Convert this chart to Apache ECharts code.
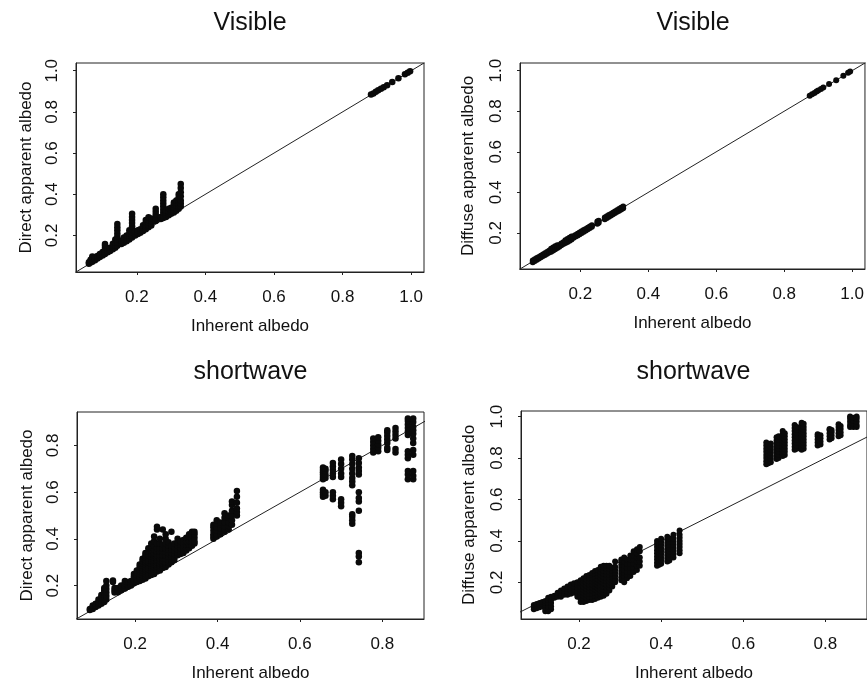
<!DOCTYPE html>
<html>
<head>
<meta charset="utf-8">
<script src="https://cdn.jsdelivr.net/npm/echarts@6/dist/echarts.min.js"></script>
<style>html,body{margin:0;padding:0;background:#fff}#c{width:867px;height:683px}</style>
</head>
<body>
<div id="c"></div>
<script>
// ---- data: columns of [inherent albedo, [apparent albedo values]] ----
const visDirect = [
  [0.06,[0.062,0.07]],[0.065,[0.068,0.075,0.082]],[0.07,[0.072,0.08,0.09,0.098]],
  [0.078,[0.08,0.088,0.095]],[0.085,[0.088,0.095,0.1]],[0.092,[0.095,0.102,0.11]],
  [0.1,[0.103,0.11,0.12]],[0.107,[0.11,0.12,0.13,0.14,0.15,0.158]],[0.115,[0.118,0.125,0.135]],
  [0.122,[0.125,0.132,0.14]],[0.13,[0.133,0.14,0.15,0.16]],[0.137,[0.14,0.15,0.165,0.18]],
  [0.143,[0.15,0.165,0.18,0.195,0.21,0.225,0.24,0.255]],[0.155,[0.158,0.165,0.175]],
  [0.162,[0.165,0.172,0.182,0.19]],[0.17,[0.172,0.18,0.19,0.2]],[0.178,[0.18,0.19,0.2,0.21,0.225]],
  [0.186,[0.19,0.2,0.215,0.23,0.245,0.26,0.275,0.29,0.305]],[0.195,[0.2,0.21,0.22]],
  [0.203,[0.207,0.215,0.225]],[0.21,[0.213,0.22,0.23]],[0.218,[0.222,0.23,0.24,0.25]],
  [0.226,[0.23,0.24,0.25,0.262,0.275]],[0.234,[0.24,0.25,0.262,0.275,0.288]],
  [0.242,[0.248,0.258,0.27,0.282]],[0.255,[0.27,0.285,0.3,0.315,0.33]],[0.27,[0.28,0.29]],
  [0.277,[0.285,0.295,0.31,0.325,0.34,0.355,0.37,0.385,0.4]],[0.285,[0.29,0.3,0.31,0.32]],
  [0.293,[0.298,0.308,0.318,0.33]],[0.3,[0.305,0.315,0.325,0.335]],
  [0.308,[0.312,0.322,0.335,0.35,0.36]],[0.315,[0.32,0.33,0.345,0.36,0.37]],
  [0.322,[0.33,0.34,0.355,0.37,0.385,0.4]],[0.328,[0.34,0.355,0.37,0.39,0.41,0.43,0.45]],
  [0.883,[0.885]],[0.89,[0.89]],[0.897,[0.898]],[0.904,[0.905]],[0.912,[0.912]],[0.92,[0.92]],
  [0.93,[0.93]],[0.945,[0.945]],[0.963,[0.963]],[0.982,[0.983]],[0.99,[0.99]],[0.997,[0.998]]
];
const visDiffuse = [
  [0.06,[0.056,0.064]],[0.066,[0.062,0.07]],[0.072,[0.068,0.076]],[0.078,[0.074,0.082]],
  [0.084,[0.08,0.088]],[0.09,[0.086,0.094]],[0.096,[0.092,0.1]],[0.102,[0.098,0.106]],
  [0.108,[0.104,0.112]],[0.114,[0.108,0.116,0.122]],[0.12,[0.114,0.122,0.128]],
  [0.126,[0.12,0.128,0.134]],[0.132,[0.126,0.134,0.14]],[0.138,[0.132,0.14]],
  [0.144,[0.14,0.148]],[0.15,[0.146,0.154]],[0.156,[0.15,0.158,0.164]],[0.162,[0.156,0.164,0.17]],
  [0.168,[0.162,0.17,0.176]],[0.174,[0.168,0.176,0.182]],[0.18,[0.176,0.184]],[0.186,[0.182,0.19]],
  [0.192,[0.188,0.196]],[0.198,[0.194,0.202]],[0.204,[0.2,0.208]],[0.21,[0.206,0.214]],
  [0.216,[0.212,0.22]],[0.222,[0.218,0.226]],[0.228,[0.224,0.232]],[0.234,[0.23,0.238]],
  [0.25,[0.246,0.256]],[0.254,[0.25,0.26]],
  [0.272,[0.268,0.276]],[0.278,[0.274,0.282]],[0.284,[0.28,0.288]],[0.29,[0.286,0.294]],
  [0.296,[0.292,0.3]],[0.302,[0.298,0.306]],[0.308,[0.304,0.312]],[0.314,[0.31,0.318]],
  [0.32,[0.316,0.324]],[0.326,[0.322,0.33]],
  [0.875,[0.876]],[0.882,[0.884]],[0.889,[0.89]],[0.895,[0.897]],[0.9,[0.902]],[0.908,[0.91]],
  [0.915,[0.917]],[0.932,[0.934]],[0.953,[0.953]],[0.974,[0.975]],[0.988,[0.99]],[0.994,[0.996]]
];
const swDirect = [
  [0.09,[0.095,0.1]],[0.097,[0.1,0.108,0.115]],[0.104,[0.108,0.115,0.122]],
  [0.111,[0.115,0.122,0.13,0.14]],[0.118,[0.122,0.13,0.14,0.15,0.16]],
  [0.125,[0.13,0.14,0.15,0.16,0.17,0.18,0.19]],[0.13,[0.14,0.155,0.17,0.185,0.2,0.22]],
  [0.146,[0.215,0.222]],[0.15,[0.17,0.18,0.19]],[0.158,[0.172,0.182,0.19]],
  [0.166,[0.18,0.19,0.2]],[0.175,[0.188,0.2,0.21,0.22]],[0.183,[0.195,0.205,0.215]],
  [0.19,[0.2,0.21,0.22]],
  [0.197,[0.21,0.22,0.23,0.24,0.25]],[0.204,[0.215,0.225,0.235,0.245,0.255,0.265]],
  [0.211,[0.22,0.23,0.24,0.25,0.26,0.27,0.28,0.29]],
  [0.218,[0.225,0.235,0.245,0.255,0.265,0.275,0.285,0.295,0.305,0.315]],
  [0.225,[0.23,0.24,0.25,0.26,0.27,0.28,0.29,0.3,0.31,0.32,0.33,0.34]],
  [0.232,[0.24,0.25,0.26,0.27,0.28,0.29,0.3,0.31,0.32,0.33,0.345,0.36]],
  [0.239,[0.245,0.255,0.265,0.275,0.285,0.295,0.305,0.315,0.325,0.335,0.35,0.365,0.38]],
  [0.246,[0.25,0.26,0.27,0.28,0.29,0.3,0.31,0.32,0.33,0.34,0.355,0.37,0.39,0.41]],
  [0.253,[0.26,0.27,0.28,0.29,0.3,0.31,0.32,0.33,0.345,0.36,0.38,0.44,0.452]],
  [0.26,[0.265,0.275,0.285,0.295,0.305,0.315,0.33,0.345,0.36,0.38,0.4]],
  [0.267,[0.275,0.285,0.295,0.305,0.315,0.33,0.345,0.36,0.375,0.44]],
  [0.274,[0.28,0.29,0.3,0.315,0.33,0.345,0.36,0.38,0.4,0.42]],
  [0.281,[0.29,0.3,0.31,0.325,0.34,0.355,0.37,0.385]],
  [0.288,[0.3,0.31,0.325,0.34,0.355,0.37,0.43]],
  [0.295,[0.31,0.32,0.335,0.35,0.365,0.38]],
  [0.303,[0.33,0.34,0.355,0.37,0.385,0.4]],[0.31,[0.335,0.345,0.36,0.375,0.39]],
  [0.317,[0.34,0.35,0.365,0.38,0.395]],[0.324,[0.35,0.36,0.375,0.39,0.405]],
  [0.331,[0.36,0.375,0.39,0.41,0.42]],[0.338,[0.37,0.385,0.4,0.415,0.43]],
  [0.344,[0.38,0.39,0.405,0.42,0.43]],
  [0.39,[0.4,0.41,0.42,0.435,0.45,0.46]],[0.398,[0.41,0.42,0.435,0.45,0.465,0.48]],
  [0.407,[0.42,0.43,0.445,0.46,0.47]],[0.417,[0.43,0.44,0.455,0.47,0.49,0.51]],
  [0.427,[0.44,0.455,0.47,0.49,0.5]],[0.435,[0.46,0.48,0.5,0.52,0.545,0.56]],
  [0.447,[0.5,0.515,0.53,0.555,0.58,0.605]],
  [0.656,[0.58,0.59,0.6,0.61,0.655,0.665,0.675,0.685,0.695,0.705]],
  [0.662,[0.585,0.6,0.66,0.675,0.69,0.7]],
  [0.68,[0.57,0.585,0.6,0.665,0.68,0.695,0.71,0.725]],
  [0.7,[0.54,0.555,0.57,0.665,0.68,0.7,0.72,0.74]],
  [0.727,[0.465,0.48,0.495,0.505,0.63,0.645,0.66,0.68,0.7,0.72,0.74,0.755]],
  [0.743,[0.3,0.325,0.34,0.52,0.56,0.575,0.6,0.675,0.69,0.705,0.725,0.745]],
  [0.778,[0.77,0.785,0.8,0.815,0.83]],[0.79,[0.775,0.79,0.805,0.82,0.835]],
  [0.812,[0.78,0.79,0.81,0.825,0.84,0.855,0.865]],[0.832,[0.77,0.785,0.83,0.845,0.86,0.875]],
  [0.862,[0.655,0.675,0.69,0.745,0.76,0.775,0.845,0.86,0.875,0.89,0.905,0.915]],
  [0.875,[0.655,0.67,0.69,0.76,0.78,0.81,0.83,0.85,0.865,0.88,0.9,0.915]]
];
const swDiffuse = [
  [0.09,[0.07,0.08,0.09]],[0.097,[0.075,0.085,0.095]],[0.104,[0.08,0.09,0.1]],
  [0.111,[0.085,0.095,0.105]],[0.118,[0.06,0.07,0.08,0.09,0.1,0.11]],
  [0.125,[0.06,0.07,0.085,0.1,0.115,0.125]],[0.132,[0.07,0.085,0.1,0.115,0.13]],
  [0.14,[0.125,0.135]],[0.148,[0.13,0.14,0.15]],[0.156,[0.13,0.14,0.15,0.16]],
  [0.164,[0.14,0.15,0.16,0.17]],[0.172,[0.14,0.155,0.17,0.18]],[0.18,[0.145,0.16,0.175,0.19]],
  [0.188,[0.15,0.165,0.18,0.195]],[0.196,[0.13,0.145,0.16,0.175,0.19,0.2]],
  [0.204,[0.105,0.12,0.135,0.15,0.165,0.18,0.195,0.21]],
  [0.211,[0.105,0.12,0.135,0.15,0.165,0.18,0.195,0.21,0.22]],
  [0.218,[0.11,0.125,0.14,0.155,0.17,0.185,0.2,0.215,0.23]],
  [0.225,[0.115,0.13,0.145,0.16,0.175,0.19,0.205,0.22,0.235]],
  [0.232,[0.115,0.13,0.145,0.16,0.175,0.19,0.205,0.22,0.235,0.245]],
  [0.239,[0.12,0.135,0.15,0.165,0.18,0.195,0.21,0.225,0.24,0.255]],
  [0.246,[0.125,0.14,0.155,0.17,0.185,0.2,0.215,0.23,0.245,0.26]],
  [0.253,[0.13,0.145,0.16,0.175,0.19,0.205,0.22,0.235,0.25,0.265,0.275]],
  [0.26,[0.135,0.15,0.165,0.18,0.195,0.21,0.225,0.24,0.255,0.27,0.28]],
  [0.267,[0.145,0.16,0.175,0.19,0.205,0.22,0.235,0.25,0.265,0.28]],
  [0.274,[0.16,0.175,0.19,0.205,0.22,0.235,0.25,0.265,0.28]],
  [0.281,[0.18,0.195,0.21,0.225,0.24,0.255,0.27]],
  [0.288,[0.2,0.215,0.23,0.245,0.26,0.275,0.3]],
  [0.303,[0.21,0.225,0.24,0.255,0.27,0.285,0.3,0.31]],
  [0.31,[0.2,0.215,0.23,0.245,0.26,0.28,0.3,0.32]],
  [0.317,[0.22,0.235,0.25,0.27,0.29,0.31]],[0.325,[0.23,0.25,0.27,0.29,0.31,0.33]],
  [0.333,[0.25,0.27,0.29,0.31,0.33,0.35]],[0.341,[0.26,0.28,0.3,0.32,0.34,0.36]],
  [0.348,[0.28,0.3,0.32,0.35,0.37]],
  [0.39,[0.28,0.295,0.31,0.325,0.34,0.355,0.37,0.385,0.4]],
  [0.395,[0.285,0.3,0.315,0.33,0.345,0.36,0.375,0.39]],
  [0.4,[0.29,0.305,0.32,0.335,0.35,0.365,0.38,0.395,0.41]],
  [0.415,[0.3,0.315,0.33,0.345,0.36,0.375,0.39,0.405,0.42]],
  [0.42,[0.305,0.32,0.335,0.35,0.365,0.38,0.395,0.41]],
  [0.43,[0.32,0.335,0.35,0.365,0.38,0.395,0.41,0.43]],
  [0.445,[0.34,0.355,0.37,0.385,0.4,0.415,0.43,0.45]],
  [0.656,[0.77,0.785,0.8,0.815,0.83,0.845,0.86,0.875]],
  [0.661,[0.775,0.79,0.805,0.82,0.835,0.85,0.865]],
  [0.667,[0.78,0.795,0.81,0.825,0.84,0.855,0.87]],
  [0.681,[0.795,0.81,0.825,0.84,0.855,0.87,0.885,0.9]],
  [0.686,[0.8,0.815,0.83,0.845,0.86,0.875,0.89,0.905]],
  [0.696,[0.81,0.825,0.84,0.855,0.87,0.885,0.9,0.915,0.93]],
  [0.701,[0.815,0.83,0.845,0.86,0.875,0.89,0.905,0.92]],
  [0.725,[0.84,0.855,0.87,0.885,0.9,0.915,0.93,0.945,0.96]],
  [0.73,[0.845,0.86,0.875,0.89,0.905,0.92,0.935,0.95]],
  [0.742,[0.84,0.855,0.87,0.885,0.9,0.915,0.93,0.945,0.96,0.97]],
  [0.747,[0.845,0.86,0.875,0.89,0.905,0.92,0.935,0.95,0.965]],
  [0.781,[0.86,0.875,0.89,0.905,0.915]],[0.788,[0.865,0.88,0.895,0.91]],
  [0.81,[0.89,0.905,0.92,0.935,0.94]],[0.815,[0.895,0.91,0.925,0.935]],
  [0.832,[0.905,0.92,0.935,0.95,0.963]],[0.837,[0.91,0.925,0.94,0.955]],
  [0.86,[0.95,0.96,0.975,0.99,1.0]],[0.868,[0.95,0.965,0.98,0.995]],[0.876,[0.95,0.96,0.975,0.99,1.0]]
];
const identityLine = [[0, 0], [1.2, 1.2]];
const visTicks = [0.2, 0.4, 0.6, 0.8, 1.0];
const swXTicks = [0.2, 0.4, 0.6, 0.8];
const swDirYTicks = [0.2, 0.4, 0.6, 0.8];
const swDifYTicks = [0.2, 0.4, 0.6, 0.8, 1.0];
const panelTitles = ['Visible', 'Visible', 'shortwave', 'shortwave'];
const yNames = ['Direct apparent albedo', 'Diffuse apparent albedo', 'Direct apparent albedo', 'Diffuse apparent albedo'];
const xName = 'Inherent albedo';

// ---- layout ----
const FONT = '"Liberation Sans", Arial, Helvetica, sans-serif';
const grids = [
  {left: 76, top: 63, width: 348, height: 209},
  {left: 520, top: 63, width: 348, height: 206},
  {left: 77, top: 412, width: 347, height: 209},
  {left: 521, top: 411, width: 347, height: 208}
];
const xRanges = [[0.0224, 1.0376], [0.0224, 1.0376], [0.0588, 0.9012], [0.0588, 0.9012]];
const yRanges = [[0.0224, 1.0376], [0.0224, 1.0376], [0.057, 0.943], [0.023, 1.027]];
const xTicks = [visTicks, visTicks, swXTicks, swXTicks];
const yTicks = [visTicks, visTicks, swDirYTicks, swDifYTicks];
const datasets = [visDirect, visDiffuse, swDirect, swDiffuse];
const dotSizes = [6.5, 6, 6.5, 6];
const yNameGaps = [41, 43, 41, 43];

function flatten(cols) {
  const out = [];
  cols.forEach(([x, ys]) => ys.forEach(y => out.push([x, y])));
  return out;
}
const fmt = v => Number(v).toFixed(1);

const option = {
  animation: false,
  backgroundColor: '#fff',
  grid: grids.map(g => Object.assign({show: true, borderColor: '#222', borderWidth: 1, backgroundColor: 'transparent'}, g)),
  xAxis: grids.map((g, i) => ({
    type: 'value', gridIndex: i, min: xRanges[i][0], max: xRanges[i][1],
    name: xName, nameLocation: 'middle', nameGap: 46,
    nameTextStyle: {fontFamily: FONT, fontSize: 17, color: '#111'},
    axisLine: {show: true, onZero: false, lineStyle: {color: '#222', width: 1}},
    axisTick: {show: true, length: 3, customValues: xTicks[i], lineStyle: {color: '#222'}},
    axisLabel: {customValues: xTicks[i], formatter: fmt, margin: 17, fontFamily: FONT, fontSize: 17, color: '#111'},
    splitLine: {show: false}
  })),
  yAxis: grids.map((g, i) => ({
    type: 'value', gridIndex: i, min: yRanges[i][0], max: yRanges[i][1],
    name: yNames[i], nameLocation: 'middle', nameGap: yNameGaps[i],
    nameTextStyle: {fontFamily: FONT, fontSize: 17, color: '#111'},
    axisLine: {show: true, onZero: false, lineStyle: {color: '#222', width: 1}},
    axisTick: {show: true, length: 3, customValues: yTicks[i], lineStyle: {color: '#222'}},
    axisLabel: {customValues: yTicks[i], formatter: fmt, rotate: 90, margin: 15, fontFamily: FONT, fontSize: 17, color: '#111'},
    splitLine: {show: false}
  })),
  graphic: grids.map((g, i) => ({
    type: 'text', x: g.left + g.width / 2 - (i % 2 ? 1 : 0), y: i < 2 ? 23 : 372,
    style: {text: panelTitles[i], fontFamily: FONT, fontSize: 25, fill: '#111', align: 'center', verticalAlign: 'middle'}
  })),
  series: []
};
datasets.forEach((d, i) => {
  option.series.push({
    type: 'line', xAxisIndex: i, yAxisIndex: i, data: identityLine, clip: true,
    symbol: 'none', lineStyle: {color: '#222', width: 1}, silent: true, z: 1
  });
  option.series.push({
    type: 'scatter', xAxisIndex: i, yAxisIndex: i, data: flatten(d), clip: true,
    symbol: 'circle', symbolSize: dotSizes[i], itemStyle: {color: '#0a0a0a', opacity: 1}, z: 2
  });
});

const chart = echarts.init(document.getElementById('c'), null, {renderer: 'canvas'});
chart.setOption(option);
</script>
</body>
</html>
